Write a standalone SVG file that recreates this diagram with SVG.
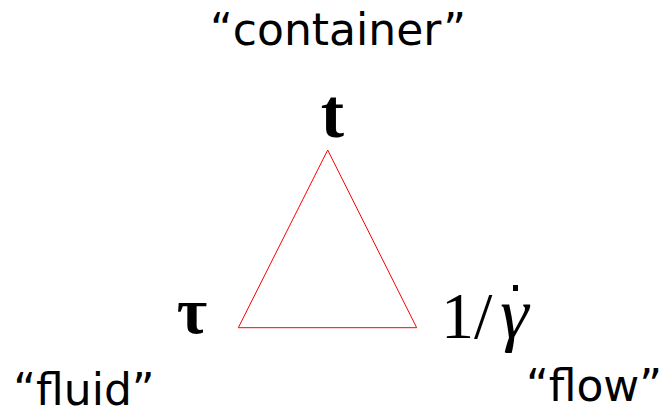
<svg xmlns="http://www.w3.org/2000/svg" width="664" height="412" viewBox="0 0 664 412">
<style>
.lab{font-family:"DejaVu Sans",sans-serif;font-size:44px;fill:#000}
.sym{font-family:"Liberation Serif",serif;fill:#000}
</style>
<rect width="664" height="412" fill="#fff"/>
<g id="connectors">
<polygon points="327.7,150 238.3,327.7 416.7,327.7" fill="none" stroke="#ff0000" stroke-width="1"/>
</g>
<g id="node-t">
<text class="sym" x="332.5" y="137" font-size="70" font-weight="bold" text-anchor="middle">t</text>
</g>
<g id="node-tau">
<text class="sym" x="192" y="333" font-size="66" font-weight="bold" text-anchor="middle">τ</text>
</g>
<g id="node-gamma">
<text class="sym" x="441" y="338" font-size="66">1/<tspan dx="8" font-size="72" font-style="italic">γ</tspan></text>
<rect x="513" y="285" width="5" height="6" fill="#000"/>
</g>
<g id="label-container">
<text class="lab" x="338" y="45" text-anchor="middle">“container”</text>
</g>
<g id="label-fluid">
<text class="lab" x="84" y="405" text-anchor="middle">“fluid”</text>
</g>
<g id="label-flow">
<text class="lab" x="594" y="401" text-anchor="middle">“flow”</text>
</g>
</svg>
